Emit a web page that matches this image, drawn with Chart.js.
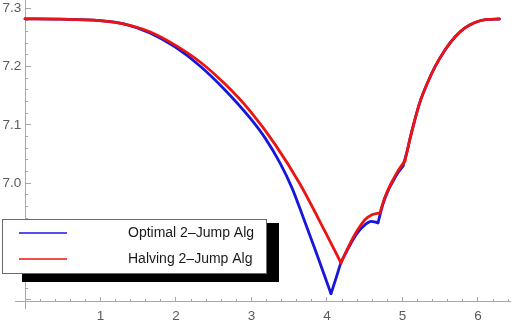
<!DOCTYPE html>
<html><head><meta charset="utf-8">
<script src="https://cdn.jsdelivr.net/npm/chart.js@4.4.1/dist/chart.umd.min.js"></script>
<style>html,body{margin:0;padding:0;background:#fff}canvas{display:block}</style>
</head><body>
<canvas id="c" width="511" height="327"></canvas>
<script>
const seriesNames = ['Optimal 2\u2013Jump Alg', 'Halving 2\u2013Jump Alg'];

const blueX = [0, 0.46, 0.99, 1.32, 1.656, 1.987, 2.318, 2.649, 2.980, 3.179, 3.377, 3.536, 3.682, 3.868, 4.053, 4.12, 4.185, 4.265, 4.344, 4.424, 4.503, 4.583, 4.675, 4.742, 4.808, 4.874, 4.940, 5.007, 5.066, 5.099, 5.166, 5.232, 5.325, 5.430, 5.563, 5.695, 5.828, 5.960, 6.119, 6.283];
const blueY = [7.282, 7.2815, 7.279, 7.273, 7.2578, 7.2338, 7.2012, 7.160, 7.112, 7.0777, 7.0348, 6.9919, 6.9422, 6.877, 6.8103, 6.837, 6.8633, 6.884, 6.903, 6.918, 6.9285, 6.9345, 6.9319, 6.9645, 6.9868, 7.0031, 7.0177, 7.0297, 7.057, 7.076, 7.110, 7.1395, 7.1703, 7.1995, 7.2286, 7.2509, 7.2664, 7.2758, 7.281, 7.2818];
const blueKinks = [4.053, 4.675, 5.007];

const redX = [0, 0.46, 0.99, 1.32, 1.66, 1.99, 2.32, 2.65, 2.98, 3.31, 3.64, 3.97, 4.185, 4.265, 4.344, 4.424, 4.503, 4.596, 4.702, 4.755, 4.808, 4.874, 4.940, 5.033, 5.099, 5.166, 5.232, 5.325, 5.430, 5.563, 5.695, 5.828, 5.960, 6.119, 6.283];
const redY = [7.282, 7.2815, 7.279, 7.273, 7.2595, 7.237, 7.208, 7.170, 7.124, 7.067, 6.999, 6.918, 6.863, 6.8856, 6.9062, 6.9233, 6.9371, 6.9456, 6.949, 6.9714, 6.9885, 7.0057, 7.0211, 7.0383, 7.076, 7.110, 7.1395, 7.1703, 7.1995, 7.2286, 7.2509, 7.2664, 7.2758, 7.281, 7.2818];
const redKinks = [4.185, 4.702, 5.033];

const xMajorStep = 1, xMinorStep = 0.2;
const yMajorStep = 0.1, yMinorStep = 0.02;
const xMin = -0.1325, xMax = 6.424;
const yMin = 6.7857, yMax = 7.3144;
const xAxisAtY = 6.796;   // value of y where the horizontal axis sits
const yAxisAtX = 0;       // value of x where the vertical axis sits

const AXIS = '#a8a8a8';
const LABEL = '#5a5a5a';
const BLUE = '#1717dc';
const RED = '#ec1313';
const FONT = {family: 'Liberation Sans', size: 13.5};

const zeroPad = s => { s.paddingLeft = 0; s.paddingRight = 0; s.paddingTop = 0; s.paddingBottom = 0; };

function splitAtKinks(xs, ys, kinks) {
  const segs = [];
  let cur = [];
  xs.forEach((x, i) => {
    cur.push({x, y: ys[i]});
    if (kinks.some(k => Math.abs(k - x) < 1e-9)) {
      segs.push(cur);
      cur = [{x, y: ys[i]}];
    }
  });
  if (cur.length > 1) segs.push(cur);
  return segs;
}

function makeSets(xs, ys, kinks, color, order, name) {
  return splitAtKinks(xs, ys, kinks).map(seg => ({
    label: name, data: seg, borderColor: color, borderWidth: 2.8, pointRadius: 0,
    cubicInterpolationMode: 'monotone', order, xAxisID: 'x', yAxisID: 'y',
    borderJoinStyle: 'round', borderCapStyle: 'round'
  }));
}

const legendPlugin = {
  id: 'mmaLegend',
  afterDraw(chart) {
    const ctx = chart.ctx;
    ctx.save();
    ctx.fillStyle = '#000';
    ctx.fillRect(22, 223, 257, 59);
    ctx.fillStyle = '#fff';
    ctx.fillRect(2, 219, 265, 55);
    ctx.strokeStyle = '#6a6a6a';
    ctx.lineWidth = 1;
    ctx.strokeRect(2.5, 219.5, 264, 54);
    const items = [[BLUE, seriesNames[0], 233], [RED, seriesNames[1], 259]];
    ctx.lineWidth = 1.6;
    ctx.font = '14px "Liberation Sans"';
    ctx.textBaseline = 'middle';
    ctx.textAlign = 'left';
    for (const [col, name, y] of items) {
      ctx.strokeStyle = col;
      ctx.beginPath(); ctx.moveTo(19, y); ctx.lineTo(67, y); ctx.stroke();
      ctx.fillStyle = '#1a1a1a';
      ctx.fillText(name, 128, y + 0.5);
    }
    ctx.restore();
  }
};

new Chart(document.getElementById('c'), {
  type: 'line',
  data: {
    datasets: [
      ...makeSets(blueX, blueY, blueKinks, BLUE, 1, seriesNames[0]),
      ...makeSets(redX, redY, redKinks, RED, 0, seriesNames[1])
    ]
  },
  options: {
    responsive: false,
    animation: false,
    devicePixelRatio: 1,
    layout: {padding: {left: 15, right: 1, top: 0, bottom: 19}},
    plugins: {legend: {display: false}, tooltip: {enabled: false}},
    scales: {
      x: {
        type: 'linear', axis: 'x', min: xMin, max: xMax, position: {y: xAxisAtY},
        afterFit: zeroPad,
        border: {display: true, color: AXIS, width: 1},
        grid: {drawOnChartArea: false, drawTicks: true, tickLength: -5, tickColor: AXIS},
        ticks: {stepSize: xMajorStep, includeBounds: false, padding: 11, color: LABEL, font: FONT, maxRotation: 0, autoSkip: false,
          callback: v => Math.abs(v) < 1e-9 ? '' : String(Math.round(v))}
      },
      xm: {
        type: 'linear', axis: 'x', min: xMin, max: xMax, position: {y: xAxisAtY},
        afterFit: zeroPad,
        border: {display: false},
        grid: {drawOnChartArea: false, drawTicks: true, tickLength: -3, tickColor: AXIS},
        ticks: {stepSize: xMinorStep, includeBounds: false, display: false, autoSkip: false}
      },
      y: {
        type: 'linear', axis: 'y', min: yMin, max: yMax, position: {x: yAxisAtX},
        afterFit: zeroPad,
        border: {display: true, color: AXIS, width: 1},
        grid: {drawOnChartArea: false, drawTicks: true, tickLength: -6, tickColor: AXIS},
        ticks: {stepSize: yMajorStep, includeBounds: false, padding: 0, color: LABEL, font: FONT, autoSkip: false,
          callback: v => Math.abs(v - 6.8) < 1e-6 ? '' : v.toFixed(1) + ' '}
      },
      ym: {
        type: 'linear', axis: 'y', min: yMin, max: yMax, position: {x: yAxisAtX},
        afterFit: zeroPad,
        border: {display: false},
        grid: {drawOnChartArea: false, drawTicks: true, tickLength: -3, tickColor: AXIS},
        ticks: {stepSize: yMinorStep, includeBounds: false, display: false, autoSkip: false}
      }
    }
  },
  plugins: [legendPlugin]
});
</script>
</body></html>
